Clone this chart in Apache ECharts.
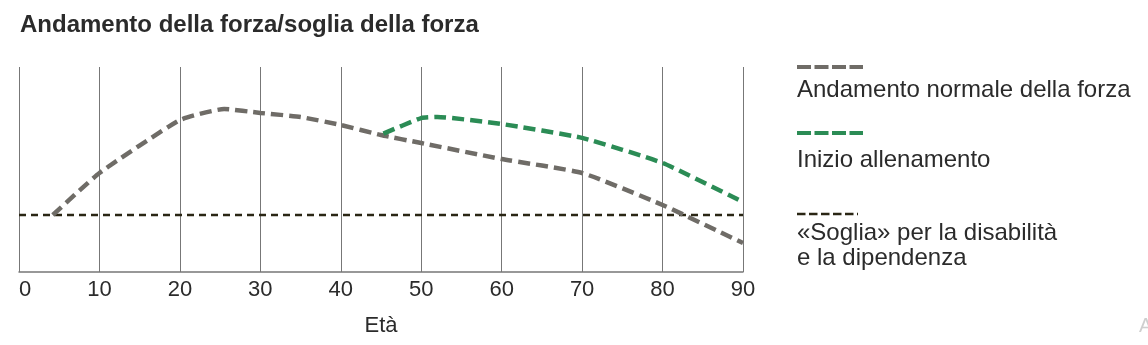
<!DOCTYPE html>
<html>
<head>
<meta charset="utf-8">
<script src="https://cdn.jsdelivr.net/npm/echarts@6/dist/echarts.min.js"></script>
<style>
html,body{margin:0;padding:0;background:#fff;}
#chart{width:1148px;height:345px;}
</style>
</head>
<body>
<div id="chart"></div>
<script>
// Data
const xTicks = [0, 10, 20, 30, 40, 50, 60, 70, 80, 90];
const normalAges   = [4.2, 10, 20, 25.5, 30, 35, 40, 45, 50, 60, 70, 80, 90];
const normalValues = [27.8, 48.3, 74.1, 79.5, 77.6, 75.6, 71.7, 66.8, 62.9, 55.1, 48.3, 32.7, 14.1];
const trainAges    = [45.3, 50, 52, 60, 70, 80, 90];
const trainValues  = [67.5, 75.1, 75.6, 72.2, 65.4, 53.2, 34.1];
const thresholdAges   = [0, 90];
const thresholdValues = [27.8, 27.8];

const seriesNames = ['Andamento normale della forza', 'Inizio allenamento', '«Soglia» per la disabilità\ne la dipendenza'];
const titleText = 'Andamento della forza/soglia della forza';
const xAxisName = 'Età';

const zip = (a, b) => a.map((v, i) => [v, b[i]]);

const GRAY = '#6f6c67';
const GREEN = '#2b8c55';
const DARK = '#2a2614';
const TEXT = '#2b2b2b';
const textFont = '"Liberation Sans", Arial, sans-serif';

const chart = echarts.init(document.getElementById('chart'), null, {renderer: 'canvas'});
chart.setOption({
  animation: false,
  backgroundColor: '#fff',
  title: {
    text: titleText, left: 20, top: 13, padding: 0,
    textStyle: {fontFamily: textFont, fontWeight: 'bold', fontSize: 24, color: TEXT}
  },
  grid: {left: 19, right: 405, top: 67, bottom: 73},
  xAxis: {
    type: 'value', min: 0, max: 90, interval: 10,
    name: xAxisName, nameLocation: 'middle', nameGap: 43,
    nameTextStyle: {fontFamily: textFont, fontSize: 22, color: TEXT},
    axisLine: {show: true, lineStyle: {color: '#777', width: 1.5}},
    axisTick: {show: false},
    axisLabel: {margin: 7, fontFamily: textFont, fontSize: 22, color: TEXT,
      alignMinLabel: 'left',
      formatter: v => xTicks.includes(v) ? String(v) : ''},
    splitLine: {show: true, lineStyle: {color: '#777', width: 1}}
  },
  yAxis: {
    type: 'value', min: 0, max: 100, show: false, splitLine: {show: false}
  },
  series: [
    {
      name: seriesNames[2], type: 'line', data: zip(thresholdAges, thresholdValues),
      symbol: 'none', z: 3,
      lineStyle: {color: DARK, width: 2.5, type: [7, 5]}
    },
    {
      name: seriesNames[0], type: 'line', data: zip(normalAges, normalValues),
      symbol: 'none', smooth: 0.15, z: 4,
      lineStyle: {color: GRAY, width: 4.5, type: [12, 6]}
    },
    {
      name: seriesNames[1], type: 'line', data: zip(trainAges, trainValues),
      symbol: 'none', smooth: 0.15, z: 5,
      lineStyle: {color: GREEN, width: 4.5, type: [12, 6]}
    }
  ],
  graphic: [
    {type: 'line', shape: {x1: 797, y1: 67, x2: 863, y2: 67},
      style: {stroke: GRAY, lineWidth: 4, lineDash: [14, 3.5]}},
    {type: 'text', left: 797, top: 78,
      style: {text: seriesNames[0], font: '24px ' + textFont, fill: TEXT}},
    {type: 'line', shape: {x1: 797, y1: 133, x2: 863, y2: 133},
      style: {stroke: GREEN, lineWidth: 4, lineDash: [14, 3.5]}},
    {type: 'text', left: 797, top: 148,
      style: {text: seriesNames[1], font: '24px ' + textFont, fill: TEXT}},
    {type: 'line', shape: {x1: 797, y1: 214, x2: 858, y2: 214},
      style: {stroke: DARK, lineWidth: 2.5, lineDash: [8.5, 3.5]}},
    {type: 'text', left: 797, top: 221,
      style: {text: seriesNames[2], font: '24px ' + textFont, fill: TEXT, lineHeight: 25}},
    {type: 'text', left: 1139, top: 316,
      style: {text: 'A', font: '20px ' + textFont, fill: '#cfcfcf'}}
  ]
});
</script>
</body>
</html>
